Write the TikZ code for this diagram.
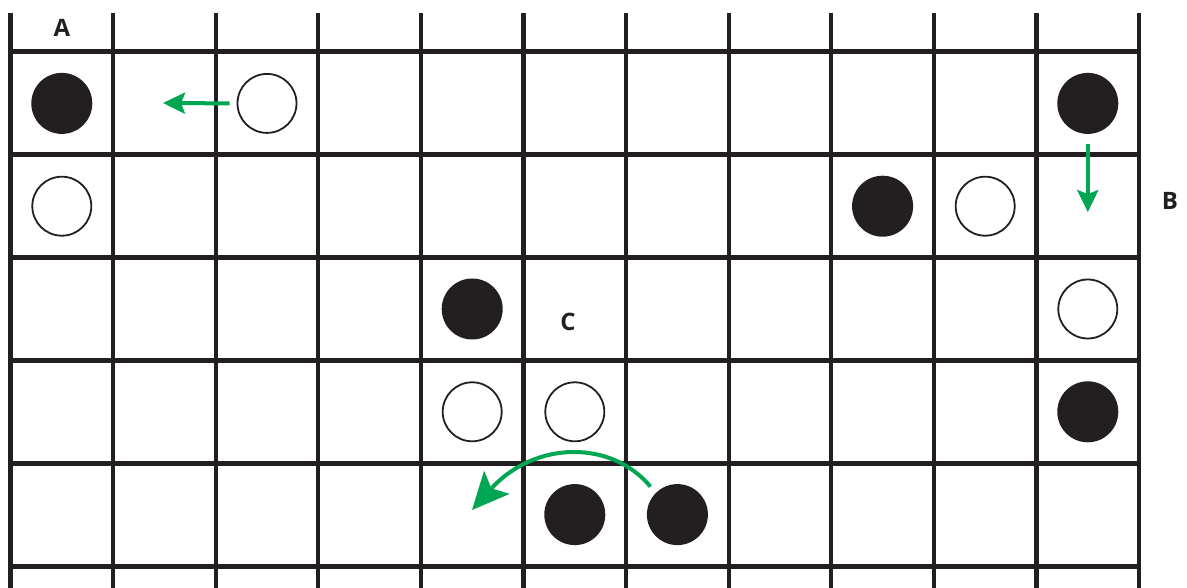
\documentclass[tikz,border=0pt]{standalone}
\usepackage{fontspec}
\setmainfont{Open Sans}
\usetikzlibrary{arrows.meta,calc}
\definecolor{ink}{HTML}{231F20}
\definecolor{grn}{HTML}{00A651}
\begin{document}
\begin{tikzpicture}[x=1pt,y=-1pt,
  blackstone/.style={circle,fill=ink,minimum size=61pt,inner sep=0pt},
  whitestone/.style={circle,draw=ink,line width=1.8pt,fill=white,minimum size=59pt,inner sep=0pt},
  lbl/.style={font=\fontsize{24}{24}\selectfont\bfseries,text=ink,inner sep=0pt},
  move/.style={draw=grn,line width=4pt},
  hline/.style={draw=ink,line width=5pt},
  vline/.style={draw=ink,line width=4.3pt}]
\useasboundingbox (0,0) rectangle (1187,588);
% grid
\foreach \i in {0,...,11} {
  \draw[vline] ({10.5+102.6*\i},13) -- ({10.5+102.6*\i},588);
}
\foreach \j in {0,...,5} {
  \draw[hline] (8.5,{52+102.8*\j}) -- (1141,{52+102.8*\j});
}
% stones
\def\cx#1{61.8+102.6*#1}
\def\cy#1{103.4+102.8*#1}
\node[blackstone] (b00) at ({\cx{0}},{\cy{0}}) {};
\node[whitestone] (w02) at ({\cx{2}},{\cy{0}}) {};
\node[blackstone] (b010) at ({\cx{10}},{\cy{0}}) {};
\node[whitestone] (w10) at ({\cx{0}},{\cy{1}}) {};
\node[blackstone] (b18) at ({\cx{8}},{\cy{1}}) {};
\node[whitestone] (w19) at ({\cx{9}},{\cy{1}}) {};
\node[blackstone] (b24) at ({\cx{4}},{\cy{2}}) {};
\node[whitestone] (w210) at ({\cx{10}},{\cy{2}}) {};
\node[whitestone] (w34) at ({\cx{4}},{\cy{3}}) {};
\node[whitestone] (w35) at ({\cx{5}},{\cy{3}}) {};
\node[blackstone] (b310) at ({\cx{10}},{\cy{3}}) {};
\node[blackstone] (b45) at ({\cx{5}},{\cy{4}}) {};
\node[blackstone] (b46) at ({\cx{6}},{\cy{4}}) {};
% labels
\node[lbl] (la) at (62,28) {A};
\node[lbl] (lb) at (1170,201) {B};
\node[lbl] (lc) at (568,322) {C};
% arrows
\coordinate (ta) at (163,103);
\coordinate (tc) at (472,510);
\draw[move,-{Stealth[length=22pt,width=21pt,inset=4pt]}] ($(w02.west)+(-7,0)$) -- (ta);
\draw[move,-{Stealth[length=22pt,width=21pt,inset=4pt]}] ($(b010.south)+(0,10)$) -- ++(0,68);
\draw[move,-{Stealth[length=37pt,width=34pt,inset=8pt]}] ($(b46)+(-27,-28)$) .. controls (612,440) and (535,440) .. (tc);
\end{tikzpicture}
\end{document}
